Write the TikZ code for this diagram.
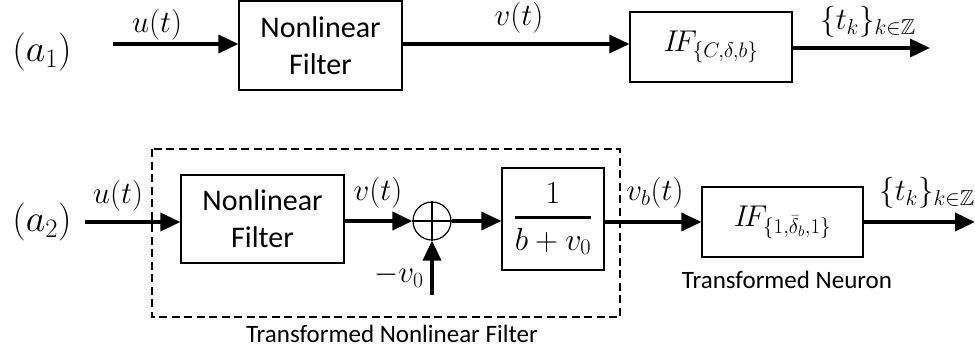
\RequirePackage{fix-cm}
\documentclass[tikz,border=0pt]{standalone}
\usepackage{amsmath,amssymb}
\usepackage{fontspec}
\setmainfont{Carlito}
\usetikzlibrary{arrows.meta}
\begin{document}
\begin{tikzpicture}[x=1pt,y=-1pt,
  blk/.style={draw,line width=1.2pt,inner sep=0pt,align=center,font=\fontsize{30}{37}\selectfont},
  mblk/.style={draw,line width=1.2pt,inner sep=0pt,align=center,font=\fontsize{30}{36}\selectfont},
  sig/.style={line width=3.6pt,-{Triangle[length=20pt,width=18pt]}},
  lbl/.style={inner sep=0pt,font=\fontsize{31}{36}\selectfont},
  captxt/.style={inner sep=0pt,font=\fontsize{25}{30}\selectfont},
  bigtxt/.style={inner sep=0pt,font=\fontsize{38}{44}\selectfont}]
\useasboundingbox (0,0) rectangle (975,349);
% ---- row a1 ----
\node[bigtxt] (a1) at (42,52) {$(a_1)$};
\coordinate (u1s) at (113,44);
\node[blk,minimum width=163pt,minimum height=89pt] (nf1) at (320.5,45.5) {Nonlinear\\Filter};
\node[mblk,minimum width=162pt,minimum height=70pt] (if1) at (711,47) {$I\!F_{\{C,\delta,b\}}$};
\coordinate (o1) at (930,48);
\draw[sig] (u1s) -- (u1s -| nf1.west);
\draw[sig] (nf1.east |- u1s) -- (u1s -| if1.west);
\draw[sig] (if1.east |- o1) -- (o1);
\node[lbl] (lu1) at (157,25) {$u(t)$};
\node[lbl] (lv1) at (519,18) {$v(t)$};
\node[lbl] (lt1) at (868,22) {$\{t_k\}_{k\in\mathbb{Z}}$};
% ---- row a2 ----
\node[bigtxt] (a2) at (42,222) {$(a_2)$};
\coordinate (u2s) at (85,222);
\node[blk,minimum width=163pt,minimum height=88pt] (nf2) at (262.5,219) {Nonlinear\\Filter};
\node[draw,circle,line width=1.2pt,minimum size=38pt,inner sep=0pt] (sum) at (432,221) {};
\draw[line width=1.2pt] (sum.north) -- (sum.south) (sum.west) -- (sum.east);
\node[mblk,minimum width=102pt,minimum height=102pt,font=\fontsize{32}{38}\selectfont] (fr) at (553,219) {$\genfrac{}{}{3pt}{0}{1}{b+v_0}$};
\node[mblk,minimum width=161pt,minimum height=70pt] (if2) at (782.5,222) {$I\!F_{\{1,\bar{\delta}_b,1\}}$};
\coordinate (o2) at (975,222);
\coordinate (vin) at (432,295);
\draw[sig] (u2s) -- (u2s -| nf2.west);
\draw[sig] (nf2.east |- sum) -- (sum.west);
\draw[sig] (vin) -- (sum.south);
\draw[sig] (sum.east) -- (sum -| fr.west);
\draw[sig] (fr.east |- u2s) -- (u2s -| if2.west);
\draw[sig] (if2.east |- o2) -- (o2);
\node[lbl] (lu2) at (118,196) {$u(t)$};
\node[lbl] (lv2) at (378,193) {$v(t)$};
\node[lbl] (lv0) at (399,276) {$-v_0$};
\node[lbl] (lvb) at (655,193) {$v_b(t)$};
\node[lbl] (lt2) at (927,193) {$\{t_k\}_{k\in\mathbb{Z}}$};
\node[captxt] (tn) at (787,280) {Transformed Neuron};
% dashed box
\coordinate (dtl) at (152,149);
\coordinate (dbr) at (620,317);
\draw[line width=2.4pt,dash pattern=on 8pt off 4.5pt] (dtl) rectangle (dbr);
\node[captxt] (tnf) at (392,334) {Transformed Nonlinear Filter};
\end{tikzpicture}
\end{document}
